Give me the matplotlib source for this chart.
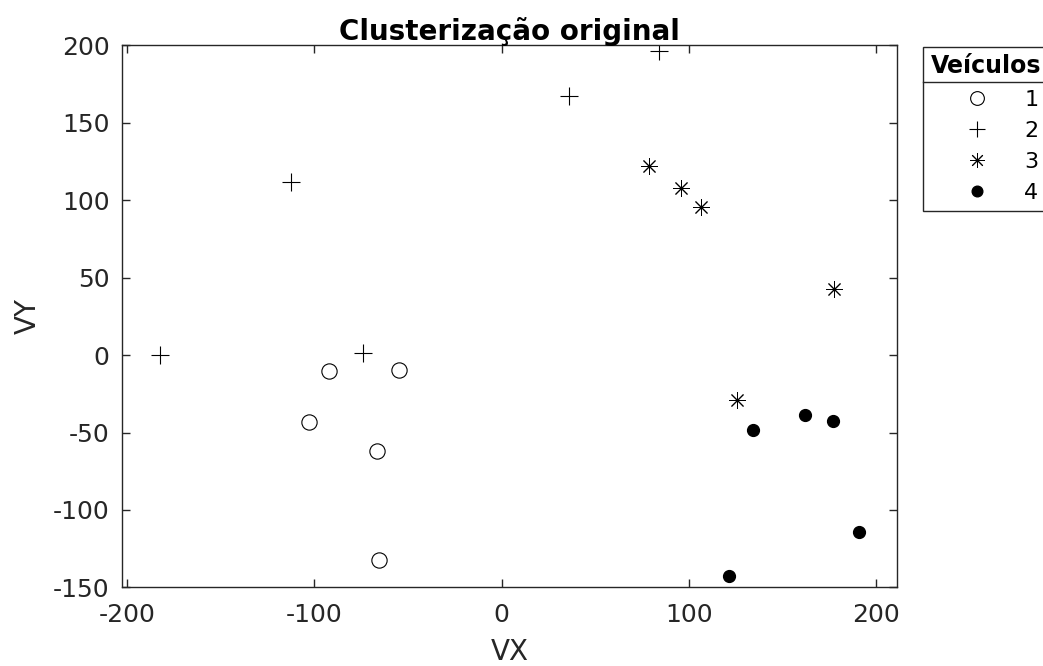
import matplotlib
matplotlib.use("Agg")
import matplotlib.pyplot as plt
from matplotlib.lines import Line2D

# velocity components for each vehicle cluster
vx_1 = [-91.8, -54.5, -102.8, -66.2, -65.2]
vy_1 = [-10.3, -9.7, -43.2, -61.7, -132.3]

vx_2 = [-182.5, -73.7, -112.3, 36.0, 83.8]
vy_2 = [0.0, 1.1, 111.8, 167.1, 196.3]

vx_3 = [78.8, 95.9, 106.2, 177.3, 125.4]
vy_3 = [121.9, 108.2, 95.7, 42.6, -29.0]

vx_4 = [134.3, 162.0, 177.0, 190.8, 121.2]
vy_4 = [-48.4, -38.9, -42.4, -114.2, -142.6]

labels = ["1", "2", "3", "4"]
xticks = [-200, -100, 0, 100, 200]
yticks = [-150, -100, -50, 0, 50, 100, 150, 200]

dark = "#262626"
plt.rcParams["font.family"] = "DejaVu Sans"
plt.rcParams["axes.unicode_minus"] = False

fig = plt.figure(figsize=(10.43, 6.66), dpi=100)
ax = fig.add_axes([0.117, 0.118, 0.743, 0.815])

ax.plot(vx_1, vy_1, "o", ls="none", ms=11, mfc="white", mec="black", mew=0.8, label=labels[0])
ax.plot(vx_2, vy_2, "+", ls="none", ms=13, color="black", mew=0.8, label=labels[1])
ax.plot(vx_3, vy_3, marker=(8, 2, 0), ls="none", ms=12, color="black", mew=0.7, label=labels[2])
ax.plot(vx_4, vy_4, "o", ls="none", ms=8.5, color="black", label=labels[3])

ax.set_xlim(-202.5, 211)
ax.set_ylim(-150, 200.5)
ax.set_xticks(xticks)
ax.set_yticks(yticks)
ax.tick_params(direction="in", top=True, right=True, length=6, width=1,
               colors=dark, labelsize=18, labelcolor=dark)
ax.tick_params(axis="x", pad=11)
ax.tick_params(axis="y", pad=9)
for s in ax.spines.values():
    s.set_color(dark)
    s.set_linewidth(1)

ax.set_xlabel("VX", fontsize=20, color=dark, labelpad=8)
ax.set_ylabel("VY", fontsize=20, color=dark, labelpad=8)
ax.set_title("Clusterização original", fontsize=20, fontweight="bold", pad=3)

leg = fig.legend(loc="upper left", bbox_to_anchor=(0.885, 0.930), borderaxespad=0,
                 title="Veículos", fontsize=16,
                 title_fontproperties={"weight": "bold", "size": 17},
                 frameon=True, fancybox=False, edgecolor=dark, framealpha=1,
                 handlelength=4.2, handletextpad=0.0, labelspacing=0.5,
                 borderpad=0.35, markerscale=0.9)
leg.get_frame().set_linewidth(1)
leg._legend_box.align = "left"

# rule between the legend title and its entries
fig.add_artist(Line2D([0.885, 1.0], [0.8773, 0.8773], color=dark, lw=1, zorder=10))

fig.savefig("out.png", dpi=100)
